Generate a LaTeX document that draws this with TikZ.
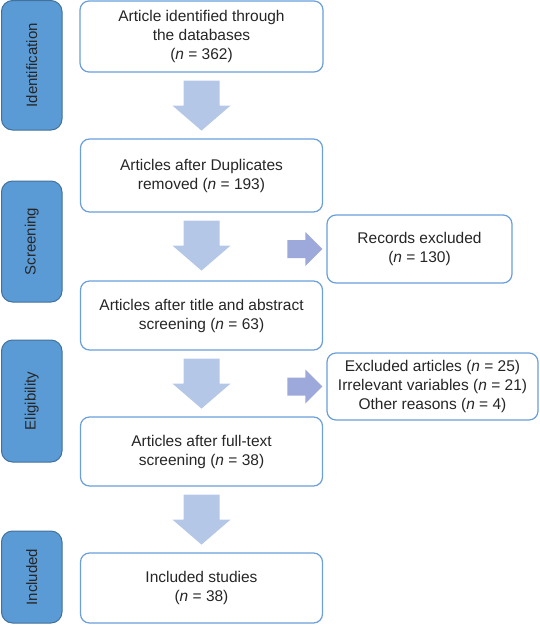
\documentclass[tikz,border=0pt]{standalone}
\usepackage{fontspec}
\setmainfont{Liberation Sans}
\usetikzlibrary{calc}
\definecolor{sidefill}{HTML}{5B9BD5}
\definecolor{sideborder}{HTML}{41719C}
\definecolor{mainblue}{HTML}{6A9FDA}
\definecolor{dnfill}{HTML}{B4C7E7}
\definecolor{rtfill}{HTML}{9DA9DA}
\definecolor{txt}{HTML}{262626}
\newcommand\dnblk[1]{\fill[dnfill] ($(#1.south)+(-18,8)$) -- ++(36,0) -- ++(0,25) -- ++(11,0) -- ++(-29,25) -- ++(-29,-25) -- ++(11,0) -- cycle;}
\newcommand\rtblk[1]{\fill[rtfill] ($(#1.west)+(-4,0)$) -- ++(-17,-17) -- ++(0,8) -- ++(-18,0) -- ++(0,18) -- ++(18,0) -- ++(0,8) -- cycle;}
\begin{document}
\begin{tikzpicture}[x=1pt,y=-1pt,
  mainbox/.style={draw=mainblue, line width=1.2pt, rounded corners=9pt, fill=white,
    align=center, inner sep=0pt, text=txt, font=\fontsize{15.5}{19}\selectfont},
  sidebox/.style={draw=sideborder, fill=sidefill, line width=1pt, rounded corners=11pt,
    rotate=90, inner sep=0pt, text=txt, font=\fontsize{15}{19}\selectfont}]
\useasboundingbox (0,0) rectangle (540,625);

% stage labels
\node[sidebox, minimum width=129.5, minimum height=60.5] (sid) at (31.75,65.25) {Identification};
\node[sidebox, minimum width=121, minimum height=60.5] (sscr) at (31.75,241.5) {Screening};
\node[sidebox, minimum width=122, minimum height=60.5] (selig) at (31.75,401) {Eligibility};
\node[sidebox, minimum width=92, minimum height=60.5] (sinc) at (31.75,577) {Included};

% main column
\node[mainbox, minimum width=243, minimum height=71] (b1) at (201.5,36.5)
  {Article identified through\\the databases\\(\textit{n} = 362)};
\node[mainbox, minimum width=242, minimum height=73] (b2) at (201.5,175.5)
  {Articles after Duplicates\\removed (\textit{n} = 193)};
\node[mainbox, minimum width=242, minimum height=69] (b3) at (201.5,315.5)
  {Articles after title and abstract\\screening (\textit{n} = 63)};
\node[mainbox, minimum width=242, minimum height=69] (b4) at (201.5,451.5)
  {Articles after full-text\\screening (\textit{n} = 38)};
\node[mainbox, minimum width=242, minimum height=70] (b5) at (201.5,588)
  {Included studies\\(\textit{n} = 38)};

% exclusion boxes
\node[mainbox, minimum width=185, minimum height=68] (rec) at (419.5,249)
  {Records excluded\\(\textit{n} = 130)};
\node[mainbox, minimum width=211, minimum height=67] (exc) at (432.5,386.5)
  {Excluded articles (\textit{n} = 25)\\Irrelevant variables (\textit{n} = 21)\\Other reasons (\textit{n} = 4)};

% block arrows
\dnblk{b1}
\dnblk{b2}
\dnblk{b3}
\dnblk{b4}
\rtblk{rec}
\rtblk{exc}
\end{tikzpicture}
\end{document}
